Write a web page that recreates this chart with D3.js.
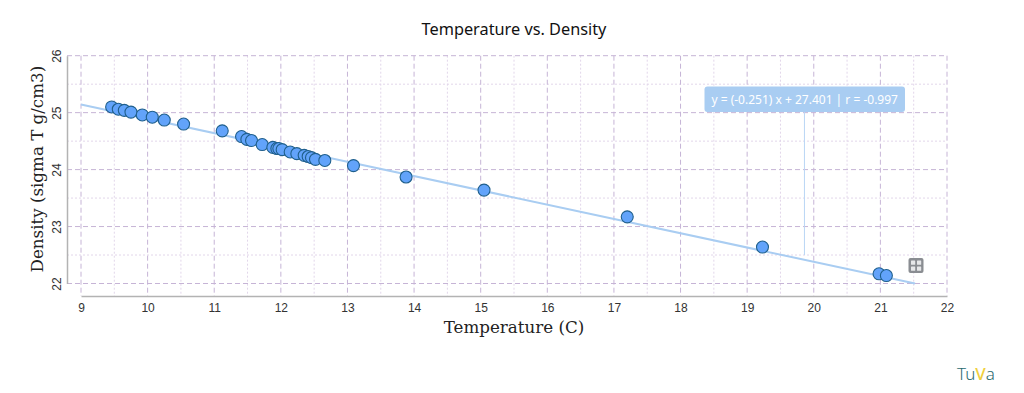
<!DOCTYPE html>
<html>
<head>
<meta charset="utf-8">
<script src="https://cdn.jsdelivr.net/npm/d3@7"></script>
<style>
  html, body { margin: 0; padding: 0; background: #fff; overflow: hidden; }
  svg { display: block; }
</style>
</head>
<body>
<div id="chart"></div>
<script>
// Values
const temperature = [9.46, 9.56, 9.65, 9.75, 9.92, 10.07, 10.25, 10.54, 11.12, 11.41, 11.49, 11.56,
    11.72, 11.88, 11.94, 11.97, 12.02, 12.14, 12.24, 12.35, 12.41, 12.46, 12.52, 12.66,
    13.09, 13.88, 15.05, 17.2, 19.23, 20.98, 21.09];
const density = [25.10, 25.06, 25.04, 25.01, 24.96, 24.92, 24.87, 24.80, 24.68, 24.58, 24.53, 24.51,
    24.44, 24.39, 24.37, 24.37, 24.35, 24.31, 24.28, 24.25, 24.23, 24.21, 24.18, 24.16,
    24.07, 23.87, 23.64, 23.17, 22.64, 22.17, 22.14];
const xTicks = [9, 10, 11, 12, 13, 14, 15, 16, 17, 18, 19, 20, 21, 22];
const yTicks = [22, 23, 24, 25, 26];
const xMinor = [9.5, 10.5, 11.5, 12.5, 13.5, 14.5, 15.5, 16.5, 17.5, 18.5, 19.5, 20.5, 21.5];
const yMinor = [22.5, 23.5, 24.5, 25.5];
const fitSlope = -0.251;
const fitIntercept = 27.401;
const fitRange = [9, 21.52];
const fitLabel = "y = (-0.251) x + 27.401 | r = -0.997";
const calloutT = 19.86;
const calloutD = 22.5;

const fullWidth = 1024;
const fullHeight = 393;
const plotLeft = 81, plotRight = 947, plotTop = 55.7, plotBottom = 283.5, axisY = 296, axisX = 67;

const svg = d3.select("#chart").append("svg")
    .attr("width", fullWidth)
    .attr("height", fullHeight);

const x = d3.scaleLinear().domain([9, 22]).range([plotLeft, plotRight]);
const y = d3.scaleLinear().domain([22, 26]).range([plotBottom, plotTop]);

// Grid
const grid = svg.append("g").attr("fill", "none");
grid.selectAll(".vminor").data(xMinor).join("line").attr("class", "vminor")
    .attr("x1", d => x(d)).attr("x2", d => x(d)).attr("y1", plotTop).attr("y2", axisY)
    .attr("stroke", "#e2d6ea").attr("stroke-width", 1).attr("stroke-dasharray", "2,2");
grid.selectAll(".hminor").data(yMinor).join("line").attr("class", "hminor")
    .attr("x1", axisX).attr("x2", plotRight).attr("y1", d => y(d)).attr("y2", d => y(d))
    .attr("stroke", "#e2d6ea").attr("stroke-width", 1).attr("stroke-dasharray", "2,2");
grid.selectAll(".vmajor").data(xTicks).join("line").attr("class", "vmajor")
    .attr("x1", d => x(d)).attr("x2", d => x(d)).attr("y1", plotTop).attr("y2", axisY)
    .attr("stroke", "#c6b4d6").attr("stroke-width", 1).attr("stroke-dasharray", "5,3");
grid.selectAll(".hmajor").data(yTicks).join("line").attr("class", "hmajor")
    .attr("x1", axisX).attr("x2", plotRight).attr("y1", d => y(d)).attr("y2", d => y(d))
    .attr("stroke", "#c6b4d6").attr("stroke-width", 1).attr("stroke-dasharray", "5,3");

// Axes
const xAxis = svg.append("g")
    .attr("transform", `translate(0,${axisY})`)
    .call(d3.axisBottom(x).tickValues(xTicks).tickSize(0).tickPadding(7).tickFormat(d3.format("d")));
const yAxis = svg.append("g")
    .attr("transform", `translate(${axisX},0)`)
    .call(d3.axisLeft(y).tickValues(yTicks).tickSize(0).tickFormat(d3.format("d")));

[xAxis, yAxis].forEach(axis => {
    axis.select(".domain").attr("stroke", "#b3b3b3").attr("stroke-width", 1.5);
    axis.selectAll("text")
        .style("font-family", "'Liberation Sans', Arial, sans-serif")
        .style("font-size", "12px")
        .style("fill", "#333");
});
yAxis.selectAll("text")
    .attr("x", null).attr("dy", null)
    .attr("text-anchor", "middle")
    .attr("transform", "translate(-6,0) rotate(-90)");

// Trend line
svg.append("line")
    .attr("x1", x(fitRange[0])).attr("y1", y(fitSlope * fitRange[0] + fitIntercept))
    .attr("x2", x(fitRange[1])).attr("y2", y(fitSlope * fitRange[1] + fitIntercept))
    .attr("stroke", "#a9cdf2").attr("stroke-width", 2);

// Data points
svg.append("g").selectAll("circle")
    .data(temperature).join("circle")
    .attr("cx", d => x(d))
    .attr("cy", (d, i) => y(density[i]))
    .attr("r", 6)
    .attr("fill", "#62a3fa")
    .attr("stroke", "#1f5f8c")
    .attr("stroke-width", 1.1);

// Callout over the trend line
svg.append("line")
    .attr("x1", x(calloutT)).attr("x2", x(calloutT))
    .attr("y1", 110).attr("y2", y(calloutD))
    .attr("stroke", "#b9d6f5").attr("stroke-width", 1);
svg.append("rect")
    .attr("x", 704.5).attr("y", 86.5).attr("width", 200.5).attr("height", 25.5).attr("rx", 3)
    .attr("fill", "#a9cdf2");
svg.append("text")
    .attr("x", 804.7).attr("y", 104).attr("text-anchor", "middle")
    .style("font-family", "'Noto Sans', sans-serif").style("font-size", "12px")
    .style("fill", "#fff").text(fitLabel);

// Small grey button in the plot corner
const btn = svg.append("g").attr("transform", "translate(908.5,258)");
btn.append("rect").attr("width", 15).attr("height", 15).attr("rx", 2).attr("fill", "#8a8d92");
[[2.5, 2.5], [8.5, 2.5], [2.5, 8.5], [8.5, 8.5]].forEach(c => {
    btn.append("rect").attr("x", c[0]).attr("y", c[1]).attr("width", 4.2).attr("height", 4.2)
        .attr("rx", 0.5).attr("fill", "#e6e7e9");
});

// Titles
svg.append("text").attr("x", 514).attr("y", 35).attr("text-anchor", "middle")
    .style("font-family", "'Noto Sans', sans-serif").style("font-size", "16.3px")
    .style("fill", "#111").text("Temperature vs. Density");

svg.append("text").attr("x", 514).attr("y", 333).attr("text-anchor", "middle")
    .style("font-family", "'DejaVu Serif', serif").style("font-size", "16.7px")
    .style("fill", "#222").text("Temperature (C)");

svg.append("text")
    .attr("transform", `translate(43,${(plotTop + plotBottom) / 2 - 0.5}) rotate(-90)`)
    .attr("text-anchor", "middle")
    .style("font-family", "'DejaVu Serif', serif").style("font-size", "16.7px")
    .style("fill", "#222").text("Density (sigma T g/cm3)");

// Logo
const logo = svg.append("text").attr("x", 957).attr("y", 380)
    .style("font-family", "'Noto Sans', sans-serif").style("font-size", "17px").style("font-weight", "300")
    .style("fill", "#2a6a70");
logo.append("tspan").text("Tu");
logo.append("tspan").style("fill", "#f0cf3c").style("font-weight", "500").text("V");
logo.append("tspan").text("a");
</script>
</body>
</html>
